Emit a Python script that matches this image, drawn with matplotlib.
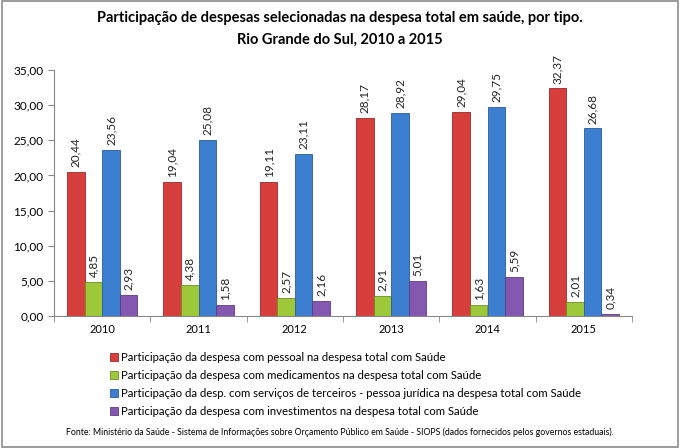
import numpy as np
import matplotlib.pyplot as plt
from matplotlib.patches import Rectangle

# Data
anos = ['2010', '2011', '2012', '2013', '2014', '2015']
pessoal = [20.44, 19.04, 19.11, 28.17, 29.04, 32.37]
medicamentos = [4.85, 4.38, 2.57, 2.91, 1.63, 2.01]
terceiros = [23.56, 25.08, 23.11, 28.92, 29.75, 26.68]
investimentos = [2.93, 1.58, 2.16, 5.01, 5.59, 0.34]

series_labels = [
    'Participação da despesa com pessoal na despesa total com Saúde',
    'Participação da despesa com medicamentos na despesa total com Saúde',
    'Participação da desp. com serviços de terceiros - pessoa jurídica na despesa total com Saúde',
    'Participação da despesa com investimentos na despesa total com Saúde',
]
cores = ['#D63F3C', '#9DC83A', '#3C7FD0', '#8458B0']
bordas = ['#9A2A28', '#6E8F25', '#2A5C99', '#5C3C80']

plt.rcParams['font.family'] = ['Lato', 'DejaVu Sans']

fig = plt.figure(figsize=(6.8, 4.48), dpi=100)
fig.patches.append(Rectangle((0.003, 0.003), 0.994, 0.994, transform=fig.transFigure,
                             fill=False, edgecolor='#8C8C8C', linewidth=1.2))

ax = fig.add_axes([54 / 680, 1 - 316 / 448, 578 / 680, 246 / 448])

x = np.arange(len(anos))
w = 0.182
dados = [pessoal, medicamentos, terceiros, investimentos]
for i, serie in enumerate(dados):
    pos = x - 1.5 * w + i * w
    bars = ax.bar(pos, serie, width=w, color=cores[i], edgecolor=bordas[i],
                  linewidth=0.6, label=series_labels[i])
    for b, v in zip(bars, serie):
        ax.text(b.get_x() + b.get_width() / 2, v + 0.7, f'{v:.2f}'.replace('.', ','),
                rotation=90, ha='center', va='bottom', fontsize=8.5, color='#222222')

ax.set_xlim(-0.5, len(anos) - 0.5)
ax.set_ylim(0, 35)
ax.set_yticks(np.arange(0, 36, 5))
ax.set_yticklabels([f'{v:.2f}'.replace('.', ',') for v in np.arange(0, 36, 5)], fontsize=8.5)
ax.set_xticks(x)
ax.set_xticklabels(anos, fontsize=8)
ax.tick_params(axis='x', length=0, pad=6)
ax.set_xticks(np.arange(-0.5, len(anos), 1), minor=True)
ax.tick_params(axis='x', which='minor', length=4, color='#888888')
ax.tick_params(axis='y', length=4, color='#888888')
for s in ['top', 'right']:
    ax.spines[s].set_visible(False)
for s in ['left', 'bottom']:
    ax.spines[s].set_color('#888888')

fig.text(0.5, 1 - 18 / 448, 'Participação de despesas selecionadas na despesa total em saúde, por tipo.',
         ha='center', va='center', fontsize=10.5, fontweight='bold')
fig.text(0.5, 1 - 40 / 448, 'Rio Grande do Sul, 2010 a 2015',
         ha='center', va='center', fontsize=10.5, fontweight='bold')

leg = fig.legend(loc='upper left', bbox_to_anchor=(104 / 680, 1 - 346 / 448), frameon=False,
                 fontsize=8.2, handlelength=0.7, handleheight=0.7, handletextpad=0.3,
                 labelspacing=0.62, borderpad=0)

fig.text(0.5, 1 - 432 / 448,
         'Fonte: Ministério da Saúde - Sistema de Informações sobre Orçamento Público em Saúde - SIOPS (dados fornecidos pelos governos estaduais).',
         ha='center', va='center', fontsize=6.3)

fig.savefig('out.png', dpi=100)
